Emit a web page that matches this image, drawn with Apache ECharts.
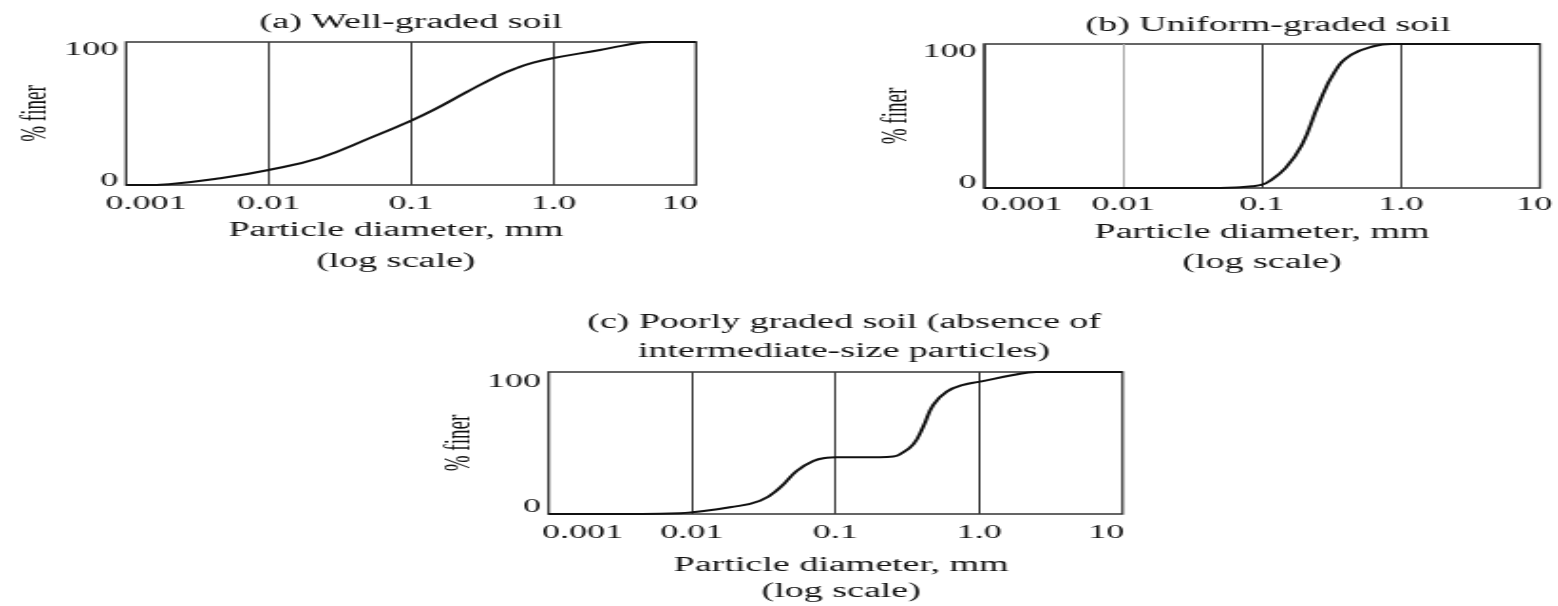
<!DOCTYPE html>
<html>
<head>
<meta charset="utf-8">
<script src="https://cdn.jsdelivr.net/npm/echarts@6/dist/echarts.min.js"></script>
<style>
  html, body { margin: 0; padding: 0; background: #fff; overflow: hidden; }
  #wrap { width: 1558px; height: 606px; overflow: hidden; }
  /* the reference figure is a horizontally stretched scan: reproduce that stretch */
  #chart { width: 820px; height: 606px; transform: scaleX(1.9); transform-origin: 0 0; }
</style>
</head>
<body>
<div id="wrap"><div id="chart"></div></div>
<script>
// ---------- data ----------
const xTickValues = [0.001, 0.01, 0.1, 1, 10];
const xTickLabels = ['0.001', '0.01', '0.1', '1.0', '10'];
const yTickValues = [0, 100];
const yTickLabels = ['0', '100'];

const panelTitles = [
  '(a) Well-graded soil',
  '(b) Uniform-graded soil',
  '(c) Poorly graded soil (absence of\nintermediate-size particles)'
];
const xAxisTitle = 'Particle diameter, mm\n(log scale)';
const yAxisTitle = '% finer';

// (a) well-graded soil
const wellDiameter = [0.001, 0.0013, 0.002, 0.0046, 0.01, 0.023, 0.052, 0.1, 0.1435, 0.246, 0.42, 0.56, 0.72, 0.98, 2.12, 3.0, 4.8, 10];
const wellFiner    = [0, 0, 0.6, 4.7, 10.5, 19, 33, 45, 52.4, 65, 77, 82, 85.5, 88.6, 94.4, 97.3, 100, 100];

// (b) uniform-graded soil
const uniformDiameter = [0.001, 0.05, 0.07, 0.085, 0.1, 0.112, 0.148, 0.194, 0.255, 0.335, 0.44, 0.645, 0.85, 10];
const uniformFiner    = [0, 0, 0.5, 1.2, 2.3, 4.5, 14, 30, 58, 81, 92.6, 98.6, 100, 100];

// (c) poorly graded soil
const poorDiameter = [0.001, 0.0045, 0.00825, 0.01, 0.0184, 0.0298, 0.041, 0.0536, 0.07, 0.0868, 0.1, 0.204, 0.253, 0.281, 0.348, 0.409, 0.48, 0.596, 0.777, 1.02, 1.73, 2.5, 10];
const poorFiner    = [0, 0, 0.5, 1.2, 4.7, 9.3, 18.6, 30.3, 37.3, 39.6, 40, 40, 40.5, 42, 49, 61.7, 76.9, 86.2, 90.9, 93.2, 97.9, 100, 100];

// ---------- layout (internal px; page is stretched 1.9x horizontally) ----------
const S = 1.9;
const FONT = 'Liberation Serif, Times New Roman, serif';
const TXT = '#111';
const LINE = '#3a3a3a';

const panels = [
  { grid: { left: 126 / S, top: 42, width: 570 / S, height: 143 },
    title: { left: 411 / S, top: 11, lh: 24 },
    xLabMargin: 10, firstPad: 21, lastPad: 17, yTopPad: 16, yBotPad: 8,
    nameGap: 30, nameLH: 31, namePad: [0, 16, 0, 0], yNameGap: 38,
    split: [LINE, LINE, LINE, LINE, LINE],
    d: wellDiameter, p: wellFiner },
  { grid: { left: 984 / S, top: 44, width: 564 / S, height: 144 },
    title: { left: 1268 / S, top: 14, lh: 24 },
    xLabMargin: 8, firstPad: 40, lastPad: 6, yTopPad: 16, yBotPad: 10,
    nameGap: 30, nameLH: 30, namePad: [0, 0, 0, 0], yNameGap: 34,
    split: [LINE, '#aaa', LINE, LINE, LINE],
    d: uniformDiameter, p: uniformFiner },
  { grid: { left: 548.5 / S, top: 372, width: 574 / S, height: 143 },
    title: { left: 844 / S, top: 308.5, lh: 29 },
    xLabMargin: 10, firstPad: 36, lastPad: 17, yTopPad: 20, yBotPad: 14,
    nameGap: 39, nameLH: 26, namePad: [0, 0, 0, 6], yNameGap: 37,
    split: [LINE, LINE, LINE, LINE, '#aaa'],
    d: poorDiameter, p: poorFiner }
];

function tickIndex(v) {
  return xTickValues.findIndex(t => Math.abs(Math.log10(t) - Math.log10(v)) < 1e-6);
}

const option = {
  animation: false,
  backgroundColor: '#fff',
  title: [], grid: [], xAxis: [], yAxis: [], series: []
};

panels.forEach((pn, i) => {
  option.title.push({
    text: panelTitles[i], left: pn.title.left, top: pn.title.top, textAlign: 'center', padding: 0,
    textStyle: { fontFamily: FONT, fontSize: 20, fontWeight: 'normal', color: TXT, lineHeight: pn.title.lh }
  });
  option.grid.push(Object.assign({ show: true, borderColor: '#333', borderWidth: 1.3, backgroundColor: 'transparent' }, pn.grid));
  const labelBase = { fontFamily: FONT, fontSize: 19, color: TXT };
  option.xAxis.push({
    type: 'log', logBase: 10, min: 0.001, max: 10, splitNumber: 4, gridIndex: i,
    axisLine: { show: false }, axisTick: { show: false },
    axisLabel: Object.assign({
      margin: pn.xLabMargin,
      formatter: v => {
        const k = tickIndex(v);
        if (k < 0) return '';
        const s = xTickLabels[k];
        if (k === 0) return '{f|' + s + '}';
        if (k === xTickLabels.length - 1) return '{l|' + s + '}';
        return s;
      },
      rich: {
        f: Object.assign({ padding: [0, 0, 0, pn.firstPad] }, labelBase),
        l: Object.assign({ padding: [0, pn.lastPad, 0, 0] }, labelBase)
      }
    }, labelBase),
    splitLine: { show: true, lineStyle: { color: pn.split, width: 1 } },
    name: xAxisTitle, nameLocation: 'middle', nameGap: pn.nameGap,
    nameTextStyle: { fontFamily: FONT, fontSize: 20, color: TXT, lineHeight: pn.nameLH, padding: pn.namePad }
  });
  option.yAxis.push({
    type: 'value', min: 0, max: 100, interval: 100, gridIndex: i,
    axisLine: { show: false }, axisTick: { show: false }, splitLine: { show: false },
    axisLabel: Object.assign({
      margin: 4,
      formatter: v => {
        const k = yTickValues.indexOf(v);
        return k === 0 ? '{b|' + yTickLabels[k] + '}' : '{t|' + yTickLabels[k] + '}';
      },
      rich: {
        b: Object.assign({ padding: [0, 0, pn.yBotPad, 0] }, labelBase),
        t: Object.assign({ padding: [pn.yTopPad, 0, 0, 0] }, labelBase)
      }
    }, labelBase),
    name: yAxisTitle, nameLocation: 'middle', nameRotate: 90, nameGap: pn.yNameGap,
    nameTextStyle: { fontFamily: FONT, fontSize: 19, color: TXT }
  });
  option.series.push({
    type: 'line', xAxisIndex: i, yAxisIndex: i,
    data: pn.d.map((x, j) => [x, pn.p[j]]),
    symbol: 'none', smooth: 0.45, clip: false,
    lineStyle: { color: '#111', width: 2 }
  });
});

const chart = echarts.init(document.getElementById('chart'));
chart.setOption(option);
</script>
</body>
</html>
